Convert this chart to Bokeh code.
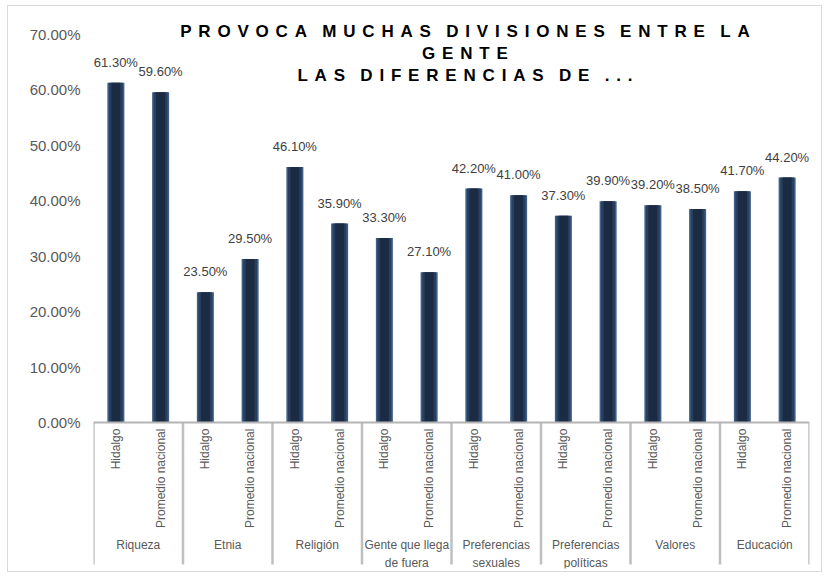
import math
from bokeh.plotting import figure
from bokeh.models import (ColumnDataSource, FactorRange, Range1d, FixedTicker,
                          NumeralTickFormatter, Span, Label)
from bokeh.embed import file_html
from bokeh.resources import INLINE

# ---- data ----
groups = ["Riqueza", "Etnia", "Religión", "Gente que llega\nde fuera",
          "Preferencias\nsexuales", "Preferencias\npolíticas", "Valores", "Educación"]
series = ["Hidalgo", "Promedio nacional"]
hidalgo = [0.613, 0.235, 0.461, 0.333, 0.422, 0.373, 0.392, 0.417]
nacional = [0.596, 0.295, 0.359, 0.271, 0.410, 0.399, 0.385, 0.442]
y_ticks = [0.0, 0.1, 0.2, 0.3, 0.4, 0.5, 0.6, 0.7]
title_lines = ["PROVOCA MUCHAS DIVISIONES ENTRE LA", "GENTE", "LAS DIFERENCIAS DE ..."]

# ---- build ----
factors = [(g, s) for g in groups for s in series]
values = []
for h, n in zip(hidalgo, nacional):
    values += [h, n]
labels = ["%.2f%%" % (v * 100) for v in values]

src = ColumnDataSource(dict(x=factors, top=values, label=labels,
                            sub=[f[1] for f in factors]))

FONT = "Liberation Sans"

p = figure(width=815, height=567, output_backend="svg", toolbar_location=None,
           x_range=FactorRange(*factors, factor_padding=0, group_padding=0,
                               subgroup_padding=0, range_padding=0),
           y_range=Range1d(-0.2634, 0.7415),
           min_border_left=85, min_border_right=14, min_border_top=5,
           min_border_bottom=5, background_fill_color="white",
           border_fill_color="white", margin=(5, 6, 5, 7),
           styles={"border": "1px solid #d9d9d9"})
p.outline_line_color = None
p.grid.visible = False
p.xaxis.visible = False

ax = p.yaxis[0]
ax.ticker = FixedTicker(ticks=y_ticks)
ax.formatter = NumeralTickFormatter(format="0.00%")
ax.axis_line_color = None
ax.major_tick_line_color = None
ax.minor_tick_line_color = None
ax.major_tick_out = 0
ax.major_tick_in = 0
ax.major_label_standoff = 13
ax.major_label_text_font = FONT
ax.major_label_text_font_size = "15px"
ax.major_label_text_color = "#595959"

# bars (layered for a shaded look)
p.vbar(x="x", top="top", width=0.38, source=src, fill_color="#3d5f88", line_color=None)
p.vbar(x="x", top="top", width=0.31, source=src, fill_color="#283f5e", line_color=None)
p.vbar(x="x", top="top", width=0.2, source=src, fill_color="#1b2b43", line_color=None)

# value labels
p.text(x="x", y="top", text="label", source=src, text_align="center",
       text_baseline="bottom", y_offset=-13,
       text_font={"value": FONT}, text_font_size="13px", text_color="#404040")

# category axis line
p.add_layout(Span(location=0, dimension="width", line_color="#b4b4b4", line_width=2))

# separators
sep_x = [(g, -1.0) for g in groups] + [(groups[-1], 1.0)]
sep_src = ColumnDataSource(dict(x0=sep_x, x1=sep_x,
                                y0=[0] * len(sep_x), y1=[-0.256] * len(sep_x)))
p.segment(x0="x0", y0="y0", x1="x1", y1="y1", source=sep_src,
          line_color="#bfbfbf", line_width=2.5)

# sub labels (vertical)
p.text(x="x", y=-0.011, text="sub", source=src, angle=math.pi / 2,
       text_align="right", text_baseline="middle",
       text_font={"value": FONT}, text_font_size="12px", text_color="#595959")

# group labels
gsrc = ColumnDataSource(dict(x=groups, text=groups))
p.text(x="x", y=-0.2085, text="text", source=gsrc, text_align="center",
       text_baseline="top", text_line_height=1.25,
       text_font={"value": FONT}, text_font_size="12px", text_color="#595959")

# title with letter spacing
def spaced(s):
    return "\u2002\u2009\u2009".join("\u2009\u2009".join(w) for w in s.split(" "))

p.add_layout(Label(x=8.3, y=0.7225, text="\n".join(spaced(t) for t in title_lines),
                   text_align="center", text_baseline="top", text_line_height=1.17,
                   text_font=FONT, text_font_size="17px", text_font_style="bold",
                   text_color="#000000"))

open("out.html", "w").write(file_html(p, INLINE))
